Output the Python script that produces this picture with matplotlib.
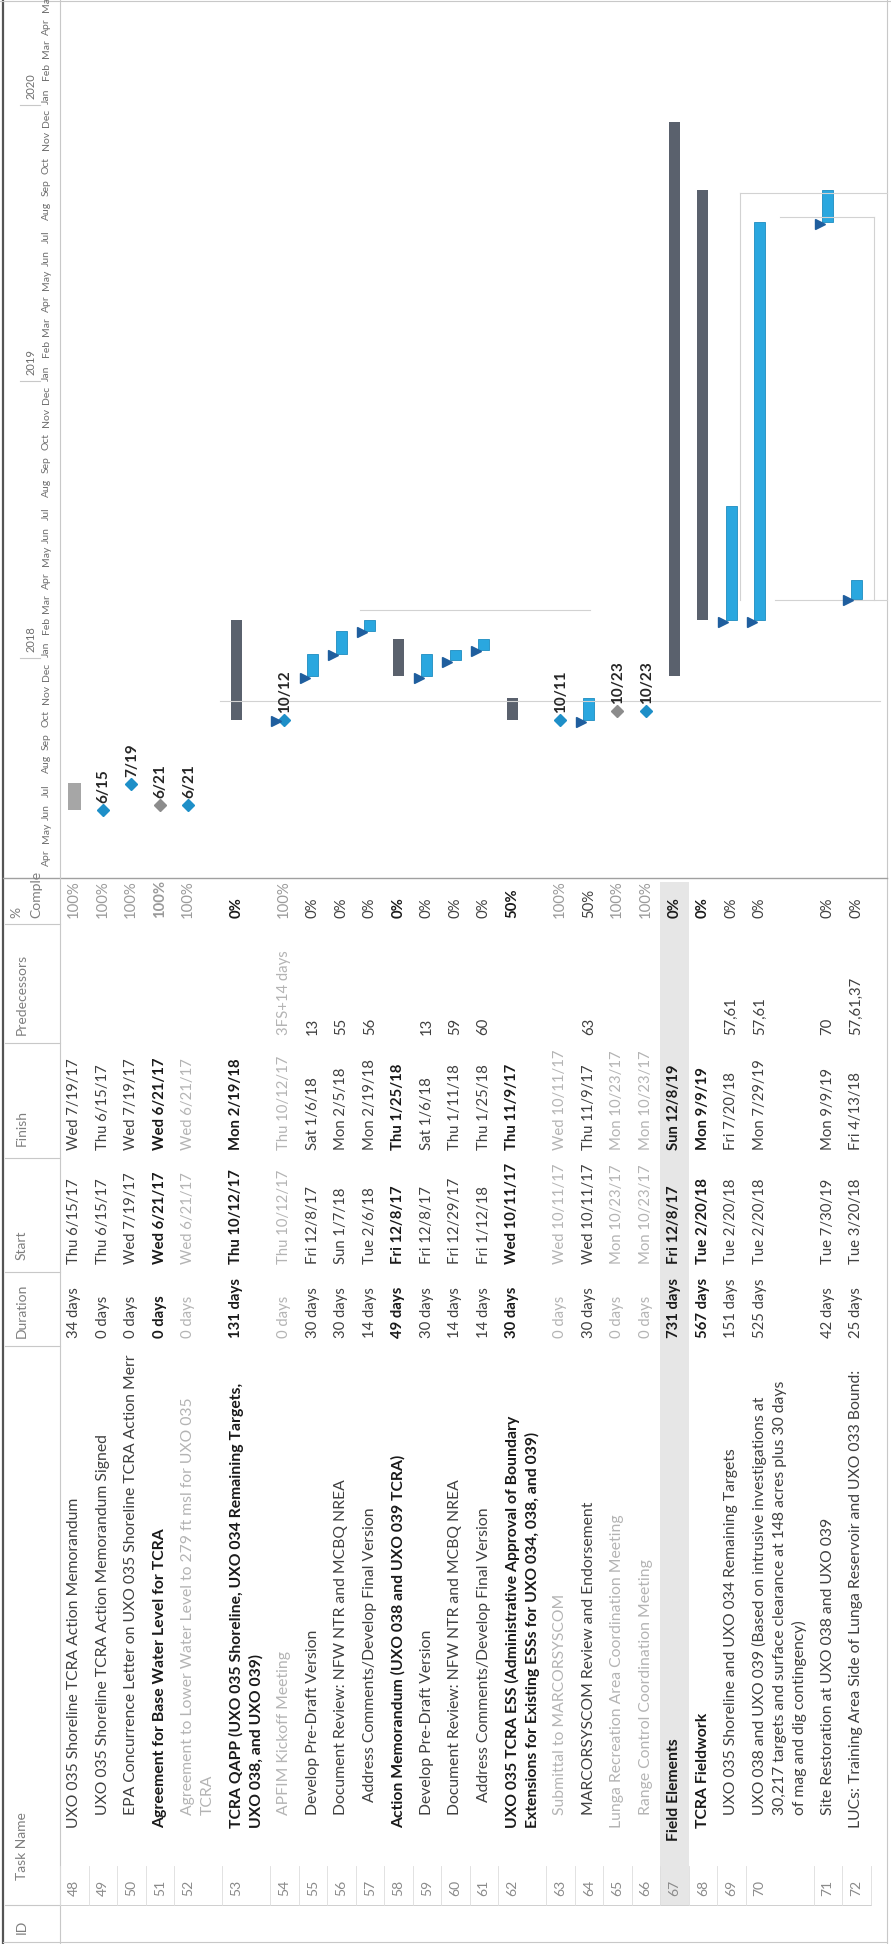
import datetime as dt
import matplotlib
matplotlib.use("Agg")
import matplotlib.pyplot as plt
import matplotlib.dates as mdates
from matplotlib.patches import Rectangle

plt.rcParams['font.family'] = ['Lato', 'DejaVu Sans']
TSIZE = 11.3   # task names
VSIZE = 10.7   # other table cells
MSIZE = 7.5    # timescale text

# ---- table data (rows 48-72) ----
ids = list(range(48, 73))
names = [
    ["UXO 035 Shoreline TCRA Action Memorandum"],
    ["UXO 035 Shoreline TCRA Action Memorandum Signed"],
    ["EPA Concurrence Letter on UXO 035 Shoreline TCRA Action Merr"],
    ["Agreement for Base Water Level for TCRA"],
    ["Agreement to Lower Water Level to 279 ft msl for UXO 035", "TCRA"],
    ["TCRA QAPP (UXO 035 Shoreline, UXO 034 Remaining Targets,", "UXO 038, and UXO 039)"],
    ["APFIM Kickoff Meeting"],
    ["Develop Pre-Draft Version"],
    ["Document Review: NFW NTR and MCBQ NREA"],
    ["Address Comments/Develop Final Version"],
    ["Action Memorandum (UXO 038 and UXO 039 TCRA)"],
    ["Develop Pre-Draft Version"],
    ["Document Review: NFW NTR and MCBQ NREA"],
    ["Address Comments/Develop Final Version"],
    ["UXO 035 TCRA ESS (Administrative Approval of Boundary",
     "Extensions for Existing ESSs for UXO 034, 038, and 039)"],
    ["Submittal to MARCORSYSCOM"],
    ["MARCORSYSCOM Review and Endorsement"],
    ["Lunga Recreation Area Coordination Meeting"],
    ["Range Control Coordination Meeting"],
    ["Field Elements"],
    ["TCRA Fieldwork"],
    ["UXO 035 Shoreline and UXO 034 Remaining Targets"],
    ["UXO 038 and UXO 039 (Based on intrusive investigations at",
     "30,217 targets and surface clearance at 148 acres plus 30 days",
     "of mag and dig contingency)"],
    ["Site Restoration at UXO 038 and UXO 039"],
    ["LUCs: Training Area Side of Lunga Reservoir and UXO 033 Bound:"],
]
levels = [1, 2, 2, 1, 2, 1, 2, 2, 2, 3, 1, 2, 2, 3, 1, 2, 2, 1, 2, 0, 1, 2, 2, 2, 1]
durations = ["34 days", "0 days", "0 days", "0 days", "0 days", "131 days", "0 days",
             "30 days", "30 days", "14 days", "49 days", "30 days", "14 days", "14 days",
             "30 days", "0 days", "30 days", "0 days", "0 days", "731 days", "567 days",
             "151 days", "525 days", "42 days", "25 days"]
starts = ["Thu 6/15/17", "Thu 6/15/17", "Wed 7/19/17", "Wed 6/21/17", "Wed 6/21/17",
          "Thu 10/12/17", "Thu 10/12/17", "Fri 12/8/17", "Sun 1/7/18", "Tue 2/6/18",
          "Fri 12/8/17", "Fri 12/8/17", "Fri 12/29/17", "Fri 1/12/18", "Wed 10/11/17",
          "Wed 10/11/17", "Wed 10/11/17", "Mon 10/23/17", "Mon 10/23/17", "Fri 12/8/17",
          "Tue 2/20/18", "Tue 2/20/18", "Tue 2/20/18", "Tue 7/30/19", "Tue 3/20/18"]
finishes = ["Wed 7/19/17", "Thu 6/15/17", "Wed 7/19/17", "Wed 6/21/17", "Wed 6/21/17",
            "Mon 2/19/18", "Thu 10/12/17", "Sat 1/6/18", "Mon 2/5/18", "Mon 2/19/18",
            "Thu 1/25/18", "Sat 1/6/18", "Thu 1/11/18", "Thu 1/25/18", "Thu 11/9/17",
            "Wed 10/11/17", "Thu 11/9/17", "Mon 10/23/17", "Mon 10/23/17", "Sun 12/8/19",
            "Mon 9/9/19", "Fri 7/20/18", "Mon 7/29/19", "Mon 9/9/19", "Fri 4/13/18"]
preds = ["", "", "", "", "", "", "3FS+14 days", "13", "55", "56", "", "13", "59", "60",
         "", "", "63", "", "", "", "", "57,61", "57,61", "70", "57,61,37"]
pct = ["100%", "100%", "100%", "100%", "100%", "0%", "100%", "0%", "0%", "0%", "0%",
       "0%", "0%", "0%", "50%", "100%", "50%", "100%", "100%", "0%", "0%", "0%", "0%",
       "0%", "0%"]
bold_rows = [51, 53, 58, 62, 67, 68]
faded_rows = [52, 54, 63, 65, 66]
summary_rows = [53, 58, 62, 67, 68]
month_names = ["Jan", "Feb", "Mar", "Apr", "May", "Jun", "Jul", "Aug", "Sep", "Oct", "Nov", "Dec"]


def parse(s):
    return dt.datetime.strptime(s.split()[1], "%m/%d/%y")


# ---- page layout (pixels, y downwards; the page is printed sideways) ----
W, H = 891, 1944
fig = plt.figure(figsize=(W / 100, H / 100), dpi=100)
ax = fig.add_axes([0, 0, 1, 1])
ax.set_xlim(0, W)
ax.set_ylim(H, 0)
ax.axis('off')

GANTT_END = 878
HEAD = 60
row_h = {1: 28.5, 2: 48, 3: 68}
tops = []
x = HEAD
for n in names:
    tops.append(x)
    x += row_h[len(n)]
centers = [t + 14.25 for t in tops]

col_id = 1888
col_name = 1828
col_dur = 1338
col_start = 1264
col_fin = 1150
col_pred = 1035
col_pct = 918


def vtext(a, xx, yy, s, **kw):
    kw.setdefault('ha', 'left')
    return a.text(xx, yy, s, rotation=90, rotation_mode='anchor', va='center', **kw)


grid = '#C8C8C8'
ax.plot([3, 3], [0, H], color='#555555', lw=1.6)
ax.plot([887, 887], [0, H], color=grid, lw=0.8)
ax.plot([0, W], [1, 1], color=grid, lw=0.8)
ax.plot([3, 887], [H - 2, H - 2], color=grid, lw=0.8)
ax.plot([3, 887], [GANTT_END, GANTT_END], color='#A0A0A0', lw=1.0)
ax.plot([HEAD, HEAD], [0, H], color=grid, lw=0.8)
for yy in [1905, 1346, 1272, 1158, 1043, 924]:
    ax.plot([5, HEAD], [yy, yy], color=grid, lw=0.8)
ax.plot([5, x], [1905, 1905], color=grid, lw=0.6)
for t in tops + [x]:
    ax.plot([t, t], [1866, 1905], color='#DDDDDD', lw=0.6)

# header labels
hcol = '#7F7F7F'
vtext(ax, 22, 1934, "ID", color=hcol, fontsize=10)
vtext(ax, 22, 1880, "Task Name", color=hcol, fontsize=10)
vtext(ax, 22, 1338, "Duration", color=hcol, fontsize=10)
vtext(ax, 22, 1260, "Start", color=hcol, fontsize=10)
vtext(ax, 22, 1146, "Finish", color=hcol, fontsize=10)
vtext(ax, 22, 1035, "Predecessors", color=hcol, fontsize=10)
vtext(ax, 16, 918, "%", color=hcol, fontsize=10)
vtext(ax, 36, 918, "Comple", color=hcol, fontsize=10)

# row 67 highlight
i67 = ids.index(67)
ax.add_patch(Rectangle((tops[i67], 882), row_h[1], 1905 - 882, color='#E6E6E6', lw=0))

# task names are cut where the Duration column starts
name_clip = Rectangle((0, col_dur - 4), W, H - col_dur, transform=ax.transData,
                      fill=False, lw=0, visible=False)
ax.add_patch(name_clip)

# table rows
for i, rid in enumerate(ids):
    xc = centers[i]
    weight = 'bold' if rid in bold_rows else 'normal'
    if rid in faded_rows:
        col = '#B4B4B4'
    elif rid in bold_rows:
        col = '#1A1A1A'
    else:
        col = '#404040'
    vtext(ax, xc, col_id, str(rid), color='#8A8A8A', fontsize=10, ha='center')
    for k, line in enumerate(names[i]):
        t = vtext(ax, xc + 20 * k, col_name - 13 * (levels[i] - 1), line,
                  color=col, fontsize=TSIZE, fontweight=weight)
        t.set_clip_path(name_clip)
    vtext(ax, xc, col_dur, durations[i], color=col, fontsize=VSIZE, fontweight=weight)
    vtext(ax, xc, col_start, starts[i], color=col, fontsize=VSIZE, fontweight=weight)
    vtext(ax, xc, col_fin, finishes[i], color=col, fontsize=VSIZE, fontweight=weight)
    vtext(ax, xc, col_pred, preds[i], color=col, fontsize=VSIZE, fontweight=weight)
    pcol = '#9A9A9A' if pct[i] == "100%" else col
    vtext(ax, xc, col_pct, pct[i], color=pcol, fontsize=VSIZE, fontweight=weight)

# ---- gantt axes: x = page pixels, y = dates (later dates further up) ----
axg = fig.add_axes([0, (H - GANTT_END) / H, 1, GANTT_END / H])
axg.set_xlim(0, W)
axg.set_ylim(mdates.date2num(dt.datetime(2017, 3, 17)), mdates.date2num(dt.datetime(2020, 5, 18)))
axg.axis('off')
axg.patch.set_alpha(0)

# timescale
d = dt.datetime(2017, 4, 1)
while d < dt.datetime(2020, 6, 1):
    vtext(axg, 46, mdates.date2num(d + dt.timedelta(days=1)), month_names[d.month - 1],
          color='#6E6E6E', fontsize=MSIZE, clip_on=True)
    if d.month == 1:
        axg.plot([20, 40], [mdates.date2num(d)] * 2, color=grid, lw=0.8)
        vtext(axg, 31, mdates.date2num(d + dt.timedelta(days=8)), str(d.year),
              color='#6E6E6E', fontsize=MSIZE + 0.5)
    d = dt.datetime(d.year + d.month // 12, d.month % 12 + 1, 1)

# connector lines (light)
conn = '#D2D2D2'
axg.plot([220, 880], [mdates.date2num(dt.datetime(2017, 11, 5))] * 2, color=conn, lw=0.8)
axg.plot([360, 590], [mdates.date2num(dt.datetime(2018, 3, 5))] * 2, color=conn, lw=0.8)
d1 = mdates.date2num(dt.datetime(2018, 3, 18))
d2 = mdates.date2num(dt.datetime(2019, 9, 6))
d3 = mdates.date2num(dt.datetime(2019, 8, 6))
axg.plot([740, 740], [d1, d2], color=conn, lw=0.8)
axg.plot([740, 887], [d2, d2], color=conn, lw=0.8)
axg.plot([780, 874], [d3, d3], color=conn, lw=0.8)
axg.plot([874, 874], [d3, d1], color=conn, lw=0.8)
axg.plot([775, 887], [d1, d1], color=conn, lw=0.8)

blue = '#2AA7DF'
dblue = '#1F5E9E'
for i, rid in enumerate(ids):
    xc = centers[i]
    s = mdates.date2num(parse(starts[i]))
    f = mdates.date2num(parse(finishes[i]) + dt.timedelta(days=1))
    if durations[i] == "0 days":
        mcol = '#8C8C8C' if levels[i] <= 1 else '#1E8FC8'
        axg.plot(xc, s, marker='D', ms=6, color=mcol, mec=mcol)
        lab = parse(starts[i])
        vtext(axg, xc + 1, s + 9, f"{lab.month}/{lab.day}", color='#262626',
              fontsize=11, fontweight='bold')
    elif rid in summary_rows:
        axg.bar(xc, f - s, bottom=s, width=11, color='#5A616D', lw=0)
    elif rid == 48:
        axg.bar(xc, f - s, bottom=s, width=13, color='#A6A6A6', lw=0)
    else:
        axg.bar(xc, f - s, bottom=s, width=11, color=blue, edgecolor='#1D8CC0', lw=0.6)
    if preds[i]:
        axg.plot(xc - 8, s - 2, marker='>', ms=6.5, color=dblue, mec=dblue)

fig.savefig("out.png", dpi=100)
